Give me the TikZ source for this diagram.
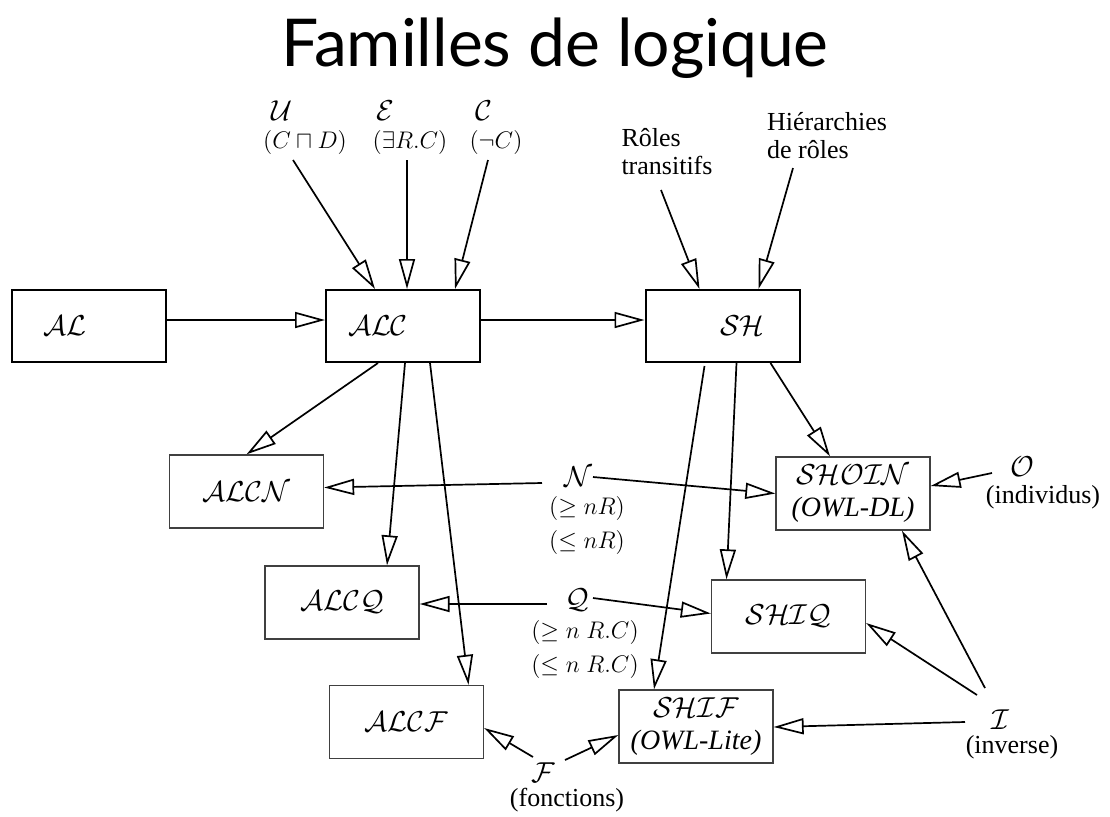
\documentclass[tikz,border=0pt]{standalone}
\usepackage{amsmath,amssymb}
\usepackage{fontspec}
\setmainfont{Liberation Serif}
\newfontfamily\titlefont{Lato}
\usetikzlibrary{arrows.meta}
\tikzset{
  topbox/.style={draw,line width=1pt,minimum width=77pt,minimum height=36pt,
                 inner sep=0pt,font=\fontsize{14}{16}\selectfont},
  subbox/.style={draw=black!75,line width=0.65pt,minimum width=77pt,minimum height=36.5pt,
                 inner sep=0pt,align=center,font=\fontsize{14}{16}\selectfont},
  ext/.style={font=\fontsize{13}{14}\selectfont,inner sep=1pt},
  extl/.style={ext,align=left},
  lettre/.style={font=\fontsize{15}{16}\selectfont,inner sep=1pt},
  ar/.style={-{Triangle[open,length=15pt,width=8pt]},line width=0.85pt},
}
\newcommand{\cstr}[1]{{\fontsize{15}{16}\selectfont$\mathcal{#1}$}}

\begin{document}
\begin{tikzpicture}[x=0.5pt,y=-0.5pt]
    \useasboundingbox (0,0) rectangle (1110,816);
    \node[font=\titlefont\fontsize{33}{38}\selectfont] (titre) at (555,48) {Familles de logique};
    % boites du haut
    \node[topbox] (al) at (88.5,326) {$\mathcal{AL}$\hspace*{24pt}};
    \node[topbox] (alc) at (403,326) {$\mathcal{ALC}$\hspace*{25pt}};
    \node[topbox] (sh) at (722.5,326) {\hspace*{20pt}$\mathcal{SH}$};
    % boites du bas
    \node[subbox] (alcn) at (246.5,491.5) {$\mathcal{ALCN}$};
    \node[subbox] (alcq) at (342,602.5) {$\mathcal{ALCQ}$};
    \node[subbox] (alcf) at (406.5,722) {$\mathcal{ALCF}$};
    \node[subbox] (shoin) at (853,493.5) {$\mathcal{SHOIN}$\\\textit{(OWL-DL)}};
    \node[subbox] (shiq) at (788.5,616.5) {$\mathcal{SHIQ}$};
    \node[subbox] (shif) at (696,726.5) {$\mathcal{SHIF}$\\\textit{(OWL-Lite)}};
    % constructeurs
    \node[extl] (uni) at (305,128) {\hspace*{4pt}\cstr{U}\\$(C\sqcap D)$};
    \node[extl] (exi) at (410,128) {\hspace*{2pt}\cstr{E}\\$(\exists R.C)$};
    \node[extl] (neg) at (496,128) {\hspace*{3pt}\cstr{C}\\$(\neg C)$};
    \node[extl] (roles) at (667,152) {Rôles\\transitifs};
    \node[extl] (hier) at (827,136) {Hiérarchies\\de rôles};
    \node[lettre] (nn) at (578,477) {$\mathcal{N}$};
    \node[ext,align=center,font=\fontsize{13}{17}\selectfont] (nncond) at (587,525) {$(\geq nR)$\\$(\leq nR)$};
    \node[lettre] (qq) at (577,600) {$\mathcal{Q}$};
    \node[ext,align=center,font=\fontsize{13}{17}\selectfont] (qqcond) at (585,649) {$(\geq n\ R.C)$\\$(\leq n\ R.C)$};
    \node[lettre] (ff) at (543,773) {$\mathcal{F}$};
    \node[ext] (ffnom) at (567,800) {(fonctions)};
    \node[lettre] (oo) at (1022,467) {$\mathcal{O}$};
    \node[ext] (oonom) at (1043,497) {(individus)};
    \node[lettre] (ii) at (1000,720) {$\mathcal{I}$};
    \node[ext] (iinom) at (1012,747) {(inverse)};
    % fleches
    \draw[ar] ([shift={(0,-6)}]al.east) -- ([shift={(0,-6)}]alc.west);
    \draw[ar] ([shift={(0,-6)}]alc.east) -- ([shift={(0,-6)}]sh.west);
    \draw[ar] ([shift={(-12,32)}]uni.center) -- ([shift={(-28,0)}]alc.north);
    \draw[ar] ([shift={(-3,32)}]exi.center) -- ([shift={(4,0)}]alc.north);
    \draw[ar] ([shift={(-8,32)}]neg.center) -- ([shift={(52,0)}]alc.north);
    \draw[ar] ([shift={(-6,38)}]roles.center) -- ([shift={(-23,0)}]sh.north);
    \draw[ar] ([shift={(-34,32)}]hier.center) -- ([shift={(36,0)}]sh.north);
    \draw[ar] ([shift={(-25,0)}]alc.south) -- (alcn.north);
    \draw[ar] ([shift={(2,0)}]alc.south) -- ([shift={(45,0)}]alcq.north);
    \draw[ar] ([shift={(27,0)}]alc.south) -- ([shift={(62,0)}]alcf.north);
    \draw[ar] ([shift={(-18,3)}]sh.south) -- ([shift={(-42,0)}]shif.north);
    \draw[ar] ([shift={(14,0)}]sh.south) -- ([shift={(-62,0)}]shiq.north);
    \draw[ar] ([shift={(48,0)}]sh.south) -- ([shift={(-23,0)}]shoin.north);
    \draw[ar] ([shift={(-36,6)}]nn.center) -- ([shift={(0,-4)}]alcn.east);
    \draw[ar] ([shift={(15,0)}]nn.center) -- (shoin.west);
    \draw[ar] ([shift={(-30,4)}]qq.center) -- ([shift={(0,1.5)}]alcq.east);
    \draw[ar] ([shift={(16,-2)}]qq.center) -- ([shift={(0,-3)}]shiq.west);
    \draw[ar] ([shift={(-10,-16)}]ff.center) -- ([shift={(0,6)}]alcf.east);
    \draw[ar] ([shift={(22,-13)}]ff.center) -- ([shift={(0,8.5)}]shif.west);
    \draw[ar] ([shift={(-30,6)}]oo.center) -- ([shift={(0,-7.5)}]shoin.east);
    \draw[ar] ([shift={(-35,2)}]ii.center) -- ([shift={(0,0.5)}]shif.east);
    \draw[ar] ([shift={(-23,-25)}]ii.center) -- ([shift={(0,6.5)}]shiq.east);
    \draw[ar] ([shift={(-15,-32)}]ii.center) -- ([shift={(49,0)}]shoin.south);
  \end{tikzpicture}
\end{document}
